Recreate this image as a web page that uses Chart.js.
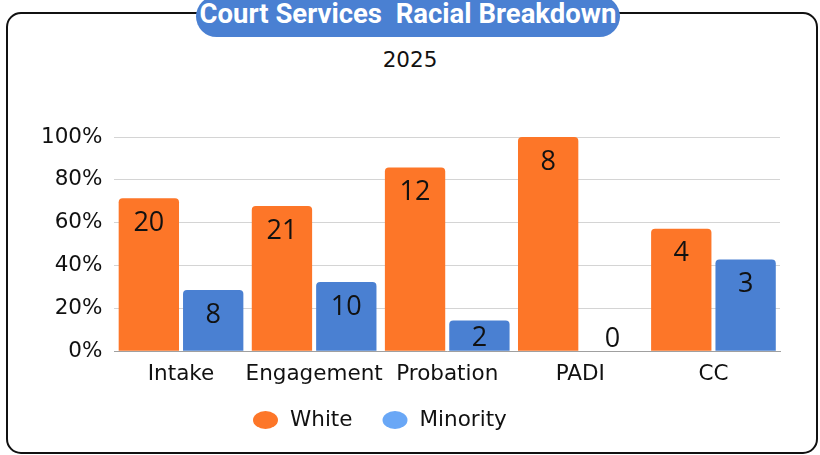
<!DOCTYPE html>
<html>
<head>
<meta charset="utf-8">
<script src="https://cdn.jsdelivr.net/npm/chart.js@4.4.1/dist/chart.umd.min.js"></script>
<style>
  html, body { margin: 0; padding: 0; background: #fff; }
  #wrap { position: relative; width: 820px; height: 455px; overflow: hidden; }
  #frame {
    position: absolute; left: 6px; top: 12px; width: 808px; height: 438px;
    border: 2px solid #111; border-radius: 15px;
  }
  #pill {
    position: absolute; left: 196px; top: -4px; width: 424px; height: 41px;
    background: #4a80d2; border-radius: 21px;
    color: #fff; font-family: Roboto, sans-serif; font-weight: bold; font-size: 27.5px;
    text-align: center; line-height: 36px; white-space: pre;
  }
  #sub {
    position: absolute; left: 0; width: 820px; top: 47px; text-align: center;
    font-family: "DejaVu Sans", sans-serif; font-size: 21.5px; color: #111;
  }
  canvas { position: absolute; left: 0; top: 0; }
</style>
</head>
<body>
<div id="wrap">
  <div id="frame"></div>
  <div id="pill">Court Services  Racial Breakdown</div>
  <div id="sub">2025</div>
  <canvas id="chart" width="820" height="455"></canvas>
</div>
<script>
// Program counts per category
const categories = ['Intake', 'Engagement', 'Probation', 'PADI', 'CC'];
const whiteCounts = [20, 21, 12, 8, 4];
const minorityCounts = [8, 10, 2, 0, 3];
const yTicks = [0, 20, 40, 60, 80, 100];

// share of each category, in percent
const share = (counts, other) => counts.map((v, i) => 100 * v / (v + other[i]));
const whitePct = share(whiteCounts, minorityCounts);
const minorityPct = share(minorityCounts, whiteCounts);

const AXIS_FONT = '"DejaVu Sans", sans-serif';
const AXIS_SIZE = 21.5;
const LABEL_FONT = '"Open Sans", sans-serif';

// draws the raw counts inside the top of each bar
const countLabels = {
  id: 'countLabels',
  afterDatasetsDraw(chart) {
    const ctx = chart.ctx;
    ctx.save();
    ctx.font = '27px ' + LABEL_FONT;
    ctx.fillStyle = '#111';
    ctx.textAlign = 'center';
    ctx.textBaseline = 'middle';
    chart.data.datasets.forEach((ds, di) => {
      chart.getDatasetMeta(di).data.forEach((bar, i) => {
        const h = bar.base - bar.y;
        const y = h < 2 ? bar.base - 12 : bar.y + Math.min(25, h / 2 + 3);
        ctx.fillText(String(ds.counts[i]), bar.x, y);
      });
    });
    ctx.restore();
  }
};

// legend row under the axis: oval swatch + series name
const ovalLegend = {
  id: 'ovalLegend',
  afterDraw(chart) {
    const ctx = chart.ctx;
    const y = 420;
    let x = 253;
    ctx.save();
    ctx.font = AXIS_SIZE + 'px ' + AXIS_FONT;
    ctx.textBaseline = 'middle';
    chart.data.datasets.forEach(ds => {
      ctx.fillStyle = ds.legendColor;
      ctx.beginPath();
      ctx.ellipse(x + 12.5, y, 12.5, 9, 0, 0, Math.PI * 2);
      ctx.fill();
      x += 37;
      ctx.fillStyle = '#111';
      ctx.fillText(ds.label, x, y);
      x += ctx.measureText(ds.label).width + 30;
    });
    ctx.restore();
  }
};

new Chart(document.getElementById('chart'), {
  type: 'bar',
  data: {
    labels: categories,
    datasets: [
      { label: 'White', data: whitePct, counts: whiteCounts, backgroundColor: '#fd7628', legendColor: '#fd7628' },
      { label: 'Minority', data: minorityPct, counts: minorityCounts, backgroundColor: '#4a80d2', legendColor: '#69a7f6' }
    ]
  },
  options: {
    responsive: false,
    animation: false,
    layout: { padding: { top: 137, right: 40, left: 29, bottom: 66 } },
    datasets: {
      bar: {
        categoryPercentage: 0.967,
        barPercentage: 0.9375,
        borderRadius: { topLeft: 4, topRight: 4, bottomLeft: 0, bottomRight: 0 },
        borderSkipped: 'bottom'
      }
    },
    scales: {
      x: {
        grid: { display: false },
        border: { color: '#a0a0a0', width: 1 },
        ticks: {
          color: '#111', font: { family: AXIS_FONT, size: AXIS_SIZE }, padding: 2,
          maxRotation: 0, minRotation: 0, autoSkip: false
        }
      },
      y: {
        min: 0, max: 100,
        afterBuildTicks: axis => { axis.ticks = yTicks.map(v => ({ value: v })); },
        grid: { color: '#d4d4d4', lineWidth: 1, drawTicks: false },
        border: { display: false },
        ticks: {
          color: '#111', font: { family: AXIS_FONT, size: AXIS_SIZE }, padding: 12,
          callback: v => v + '%'
        }
      }
    },
    plugins: {
      legend: { display: false },
      tooltip: { enabled: false }
    }
  },
  plugins: [countLabels, ovalLegend]
});
</script>
</body>
</html>
